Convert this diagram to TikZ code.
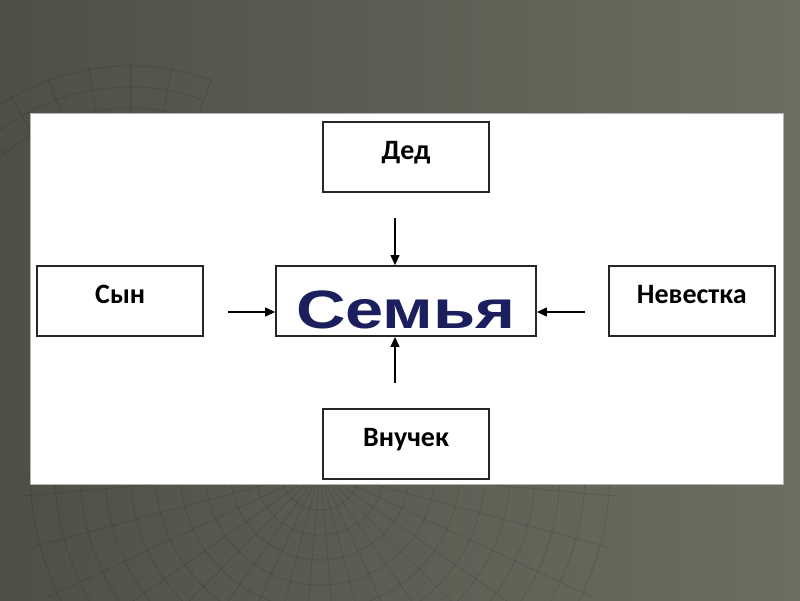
\documentclass[tikz,border=0pt]{standalone}
\usepackage{fontspec}
\setmainfont{Carlito}
\newfontfamily\headfont{Liberation Sans}
\usepackage{tikz}
\usetikzlibrary{arrows.meta,positioning}
\usepackage{xcolor}
\definecolor{famdark}{HTML}{4E4F46}
\definecolor{famlight}{HTML}{6D6E61}
\definecolor{famnavy}{HTML}{1B1F5E}
\definecolor{famline}{HTML}{262626}

\begin{document}
\begin{tikzpicture}[x=1pt,y=-1pt,
  member/.style={draw=famline,line width=1.8pt,fill=white,minimum width=166pt,minimum height=70pt,
    font=\fontsize{28}{28}\selectfont\bfseries,text height=19pt,text depth=14pt,inner sep=0pt},
  core/.style={member,minimum width=260pt,text=famnavy,
    font=\fontsize{54}{54}\headfont\bfseries,text height=54pt,text depth=0pt},
  mesh/.style={black,opacity=0.13,line width=0.7pt},
  >={Triangle[length=10pt,width=9pt]}, node distance=71pt]
\useasboundingbox (0,0) rectangle (800,600);
\begin{scope}
\clip (0,0) rectangle (800,600);
\shade[left color=famdark,right color=famlight] (0,0) rectangle (800,600);
% faint mesh behind the panel
\foreach \r in {40,65,...,290}
  \draw[mesh] (320,470) ++(0:\r) arc[start angle=0,end angle=180,radius=\r];
\foreach \a in {5,15,...,175}
  \draw[mesh] (320,470) -- ++(\a:300);
\foreach \r in {195,216,237}
  \draw[mesh] (130,303) ++(200:\r) arc[start angle=200,end angle=290,radius=\r];
\foreach \a in {200,210,...,290}
  \draw[mesh] (130,303) ++(\a:190) -- ++(\a:50);
\end{scope}
\fill[white,draw=black!30] (30,113) rectangle (783,484);
\node[core] (sem) at (406,301) {\scalebox{1.27}[1]{Семья}};
\node[member,above=72pt of sem] (ded) {Дед};
\node[member,left=71pt of sem] (syn) {Сын};
\node[member,right=71pt of sem] (nev) {Невестка};
\node[member,below=71pt of sem] (vnu) {Внучек};
% free ends of the arrows
\coordinate (top) at (395,218);
\coordinate (lft) at (228,312);
\coordinate (rgt) at (585,312);
\coordinate (bot) at (395,383);
\draw[->,line width=1.2pt] (top) -- (top |- sem.north);
\draw[->,line width=1.2pt] (lft) -- (lft -| sem.west);
\draw[->,line width=1.2pt] (rgt) -- (rgt -| sem.east);
\draw[->,line width=1.2pt] (bot) -- (bot |- sem.south);
\end{tikzpicture}
\end{document}
